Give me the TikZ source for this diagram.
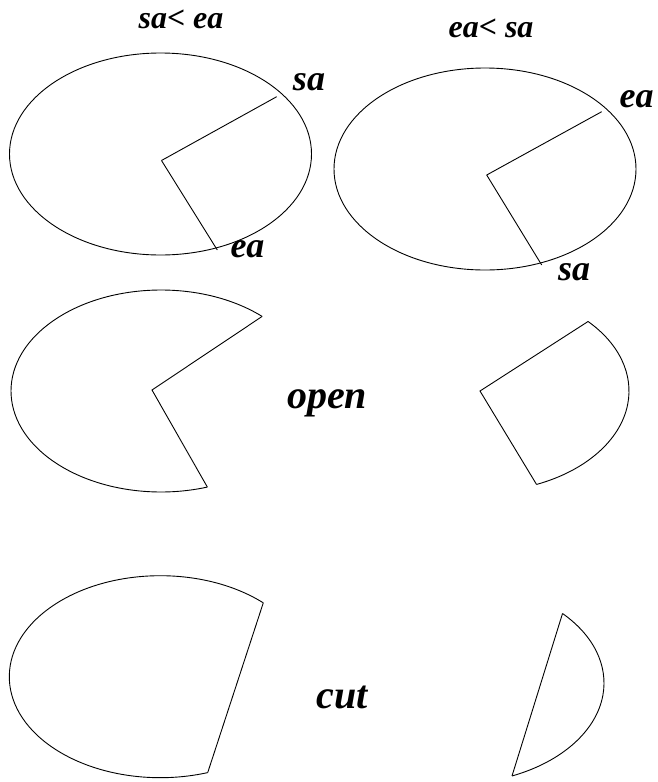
\documentclass[tikz,border=0pt]{standalone}
\usepackage{fontspec}
\setmainfont{Liberation Serif}
\begin{document}
\begin{tikzpicture}
  [x=1pt, y=-1pt,
   rim/.style={line width=0.9pt},
   end label/.style={font=\fontsize{36}{40}\selectfont\bfseries\itshape, inner sep=0pt, anchor=base},
   mode label/.style={font=\fontsize{40}{44}\selectfont\bfseries\itshape, inner sep=0pt, anchor=base},
   case label/.style={font=\fontsize{32}{36}\selectfont\bfseries\itshape, inner sep=0pt, anchor=base}]
  \useasboundingbox (0,0) rectangle (657,782);

  % first row: whole ellipses with both radii
  \node[case label] (caseL) at (181,28) {sa< ea};
  \node[case label] (caseR) at (491,37) {ea< sa};

  \coordinate (cTL) at (160.5,154);
  \coordinate (vTL) at (161.5,160.5);
  \coordinate (saTL) at (276.7,96.7);
  \coordinate (eaTL) at (217.3,250);
  \draw[rim] (cTL) ellipse [x radius=151pt, y radius=101pt];
  \draw[rim] (vTL) -- (saTL);
  \draw[rim] (vTL) -- (eaTL);
  \node[end label] (saTLlab) at (309,90) {sa};
  \node[end label] (eaTLlab) at (247.5,257) {ea};

  \coordinate (cTR) at (485,169);
  \coordinate (vTR) at (486.7,175);
  \coordinate (eaTR) at (601.7,111.7);
  \coordinate (saTR) at (541.7,265);
  \draw[rim] (cTR) ellipse [x radius=151pt, y radius=101pt];
  \draw[rim] (vTR) -- (eaTR);
  \draw[rim] (vTR) -- (saTR);
  \node[end label] (eaTRlab) at (636.5,107) {ea};
  \node[end label] (saTRlab) at (574,280) {sa};

  % second row: open arcs
  \coordinate (cOL) at (161,391);
  \coordinate (vOL) at (152,390);
  \coordinate (aOL) at ([shift={(47.6:150pt and 101pt)}]cOL);
  \coordinate (bOL) at ([shift={(288:150pt and 101pt)}]cOL);
  \draw[rim] (aOL) arc [start angle=47.6, end angle=288, x radius=150pt, y radius=101pt];
  \draw[rim] (aOL) -- (vOL) -- (bOL);

  \coordinate (cOR) at (480,391);
  \coordinate (aOR) at ([shift={(-67.7:149pt and 101pt)}]cOR);
  \coordinate (bOR) at ([shift={(43.5:149pt and 101pt)}]cOR);
  \draw[rim] (aOR) arc [start angle=-67.7, end angle=43.5, x radius=149pt, y radius=101pt];
  \draw[rim] (aOR) -- (cOR) -- (bOR);

  \node[mode label] (open) at (327,408) {open};

  % third row: cut arcs
  \coordinate (cCL) at (160.3,676.7);
  \coordinate (aCL) at ([shift={(47:151pt and 101pt)}]cCL);
  \coordinate (bCL) at ([shift={(288.3:151pt and 101pt)}]cCL);
  \draw[rim] (aCL) arc [start angle=47, end angle=288.3, x radius=151pt, y radius=101pt];
  \draw[rim] (aCL) -- (bCL);

  \coordinate (cCR) at (453,683);
  \coordinate (aCR) at ([shift={(-67:151pt and 101pt)}]cCR);
  \coordinate (bCR) at ([shift={(43.5:151pt and 101pt)}]cCR);
  \draw[rim] (aCR) arc [start angle=-67, end angle=43.5, x radius=151pt, y radius=101pt];
  \draw[rim] (aCR) -- (bCR);

  \node[mode label] (cut) at (342.5,708) {cut};
\end{tikzpicture}
\end{document}
